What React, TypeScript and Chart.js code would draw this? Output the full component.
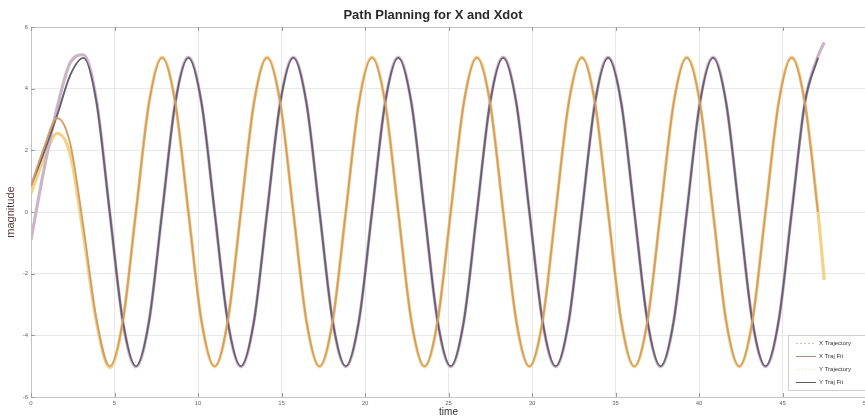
import React, { useEffect, useRef } from "react";
import { Chart, registerables } from "chart.js";

Chart.register(...registerables);

const TITLE = "Path Planning for X and Xdot";
const X_LABEL = "time";
const Y_LABEL = "magnitude";
const SERIES_NAMES = ["X Trajectory", "X Traj Fit", "Y Trajectory", "Y Traj Fit"];
const X_TICKS = [0, 5, 10, 15, 20, 25, 30, 35, 40, 45, 50];
const Y_TICKS = [-6, -4, -2, 0, 2, 4, 6];

const TIME = [
  0, 0.785, 1.571, 2.356, 3.142, 3.927, 4.712, 5.498,
  6.283, 7.069, 7.854, 8.639, 9.425, 10.21, 10.996, 11.781,
  12.566, 13.352, 14.137, 14.923, 15.708, 16.493, 17.279, 18.064,
  18.85, 19.635, 20.42, 21.206, 21.991, 22.777, 23.562, 24.347,
  25.133, 25.918, 26.704, 27.489, 28.274, 29.06, 29.845, 30.631,
  31.416, 32.201, 32.987, 33.772, 34.558, 35.343, 36.128, 36.914,
  37.699, 38.485, 39.27, 40.055, 40.841, 41.626, 42.412, 43.197,
  43.982, 44.768, 45.553, 46.338, 47.124, 47.5,
];

const X_TRAJ = [
  0.6, 1.75, 2.55, 1.85, -0.75, -3.6, -5.05, -3.55,
  0, 3.55, 5.02, 3.54, 0, -3.54, -5.02, -3.54,
  0, 3.54, 5.02, 3.54, 0, -3.54, -5.02, -3.54,
  0, 3.54, 5.02, 3.54, 0, -3.54, -5.02, -3.54,
  0, 3.54, 5.02, 3.54, 0, -3.54, -5.02, -3.54,
  0, 3.54, 5.02, 3.54, 0, -3.54, -5.02, -3.54,
  0, 3.54, 5.02, 3.54, 0, -3.54, -5.02, -3.54,
  0, 3.54, 5.02, 3.54, 0, -2.2,
];

const X_FIT = [
  0.85, 2.1, 3.05, 2.2, -0.5, -3.5, -5, -3.54,
  0, 3.54, 5, 3.54, 0, -3.54, -5, -3.54,
  0, 3.54, 5, 3.54, 0, -3.54, -5, -3.54,
  0, 3.54, 5, 3.54, 0, -3.54, -5, -3.54,
  0, 3.54, 5, 3.54, 0, -3.54, -5, -3.54,
  0, 3.54, 5, 3.54, 0, -3.54, -5, -3.54,
  0, 3.54, 5, 3.54, 0, -3.54, -5, -3.54,
  0, 3.54, 5, 3.54, 0, null,
];

const Y_TRAJ = [
  -0.9, 1.4, 3.4, 4.85, 5.1, 3.6, 0, -3.55,
  -5.02, -3.54, 0, 3.54, 5.02, 3.54, 0, -3.54,
  -5.02, -3.54, 0, 3.54, 5.02, 3.54, 0, -3.54,
  -5.02, -3.54, 0, 3.54, 5.02, 3.54, 0, -3.54,
  -5.02, -3.54, 0, 3.54, 5.02, 3.54, 0, -3.54,
  -5.02, -3.54, 0, 3.54, 5.02, 3.54, 0, -3.54,
  -5.02, -3.54, 0, 3.54, 5.02, 3.54, 0, -3.54,
  -5.02, -3.54, 0, 3.54, 5.05, 5.5,
];

const Y_FIT = [
  0.85, 1.95, 3.15, 4.45, 5, 3.54, 0, -3.54,
  -5, -3.54, 0, 3.54, 5, 3.54, 0, -3.54,
  -5, -3.54, 0, 3.54, 5, 3.54, 0, -3.54,
  -5, -3.54, 0, 3.54, 5, 3.54, 0, -3.54,
  -5, -3.54, 0, 3.54, 5, 3.54, 0, -3.54,
  -5, -3.54, 0, 3.54, 5, 3.54, 0, -3.54,
  -5, -3.54, 0, 3.54, 5, 3.54, 0, -3.54,
  -5, -3.54, 0, 3.54, 5, null,
];

const FONT = "'Liberation Sans', Arial, Helvetica, sans-serif";

const toXY = (ys: (number | null)[]) => TIME.map((t, i) => ({ x: t, y: ys[i] }));

const bgPlugin = {
  id: "bg",
  beforeDraw(chart: any) {
    const { ctx, width, height } = chart;
    ctx.save();
    ctx.fillStyle = "#ffffff";
    ctx.fillRect(0, 0, width, height);
    ctx.restore();
  },
};

const framePlugin = {
  id: "frame",
  beforeDatasetsDraw(chart: any) {
    const { ctx, chartArea } = chart;
    const { left, right, top, bottom } = chartArea;
    const xs = chart.scales.x;
    const ys = chart.scales.y;
    ctx.save();
    ctx.strokeStyle = "#c4c4c4";
    ctx.lineWidth = 1;
    ctx.beginPath();
    ctx.moveTo(left, Math.round(top) + 0.5);
    ctx.lineTo(right, Math.round(top) + 0.5);
    ctx.stroke();
    ctx.strokeStyle = "#9a9a9a";
    ctx.beginPath();
    X_TICKS.forEach((v) => {
      const px = Math.round(xs.getPixelForValue(v)) + 0.5;
      ctx.moveTo(px, bottom);
      ctx.lineTo(px, bottom - 4);
      ctx.moveTo(px, top);
      ctx.lineTo(px, top + 4);
    });
    Y_TICKS.forEach((v) => {
      const py = Math.round(ys.getPixelForValue(v)) + 0.5;
      ctx.moveTo(left, py);
      ctx.lineTo(left + 4, py);
    });
    ctx.stroke();
    ctx.restore();
  },
};

const legendPlugin = {
  id: "customLegend",
  afterDraw(chart: any) {
    const { ctx } = chart;
    const bx = 788.5;
    const by = 335.5;
    ctx.save();
    ctx.fillStyle = "#ffffff";
    ctx.strokeStyle = "#cfcfcf";
    ctx.lineWidth = 1;
    ctx.fillRect(bx, by, 120, 55);
    ctx.strokeRect(bx, by, 120, 55);
    const rows = [343, 356, 369, 382];
    chart.data.datasets.forEach((ds: any, i: number) => {
      const y = rows[i] + 0.5;
      ctx.strokeStyle = ds.legendColor;
      ctx.lineWidth = 1;
      ctx.setLineDash(ds.legendDash);
      ctx.beginPath();
      ctx.moveTo(796, y);
      ctx.lineTo(816, y);
      ctx.stroke();
      ctx.setLineDash([]);
      ctx.fillStyle = "#333333";
      ctx.font = `6px ${FONT}`;
      ctx.textBaseline = "middle";
      ctx.textAlign = "left";
      ctx.fillText(ds.label, 819, y);
    });
    ctx.restore();
  },
};

export default function App() {
  const ref = useRef<HTMLCanvasElement | null>(null);

  useEffect(() => {
    if (!ref.current) return;
    const common = {
      pointRadius: 0,
      cubicInterpolationMode: "monotone",
      spanGaps: false,
      fill: false,
    };
    const chart = new Chart(ref.current, {
      type: "line",
      data: {
        datasets: [
          {
            ...common,
            label: SERIES_NAMES[0],
            data: toXY(X_TRAJ),
            borderColor: "#f2d285",
            borderWidth: 3.2,
            order: 2,
            legendColor: "#c9c0b0",
            legendDash: [2, 2],
          },
          {
            ...common,
            label: SERIES_NAMES[1],
            data: toXY(X_FIT),
            borderColor: "#d49d66",
            borderWidth: 1.9,
            order: 0,
            legendColor: "#a88c78",
            legendDash: [],
          },
          {
            ...common,
            label: SERIES_NAMES[2],
            data: toXY(Y_TRAJ),
            borderColor: "#cbb6c8",
            borderWidth: 3.2,
            order: 1,
            legendColor: "#f1e2b8",
            legendDash: [1, 2],
          },
          {
            ...common,
            label: SERIES_NAMES[3],
            data: toXY(Y_FIT),
            borderColor: "#685e71",
            borderWidth: 1.9,
            order: 0,
            legendColor: "#5e5866",
            legendDash: [],
          },
        ] as any,
      },
      options: {
        responsive: false,
        animation: false,
        events: [],
        layout: { padding: { left: 0, right: 31, top: 0, bottom: 0 } },
        plugins: {
          legend: { display: false },
          tooltip: { enabled: false },
          title: {
            display: true,
            text: TITLE,
            color: "#2a2a2a",
            font: { family: FONT, size: 13, weight: "bold" },
            padding: { top: 8, bottom: 3.4 },
          },
        },
        scales: {
          x: {
            type: "linear",
            min: 0,
            max: 50,
            afterBuildTicks: (s: any) => {
              s.ticks = X_TICKS.map((v) => ({ value: v }));
            },
            afterFit: (s: any) => {
              s.height = 21;
            },
            grid: { color: "#e8e8e8", drawTicks: false },
            border: { color: "#c4c4c4" },
            ticks: {
              font: { family: FONT, size: 6 },
              color: "#666666",
              padding: 3,
              maxRotation: 0,
              autoSkip: false,
            },
            title: {
              display: true,
              text: X_LABEL,
              color: "#333333",
              font: { family: FONT, size: 10 },
              padding: { top: 0, bottom: 0 },
            },
          },
          y: {
            type: "linear",
            min: -6,
            max: 6,
            afterBuildTicks: (s: any) => {
              s.ticks = Y_TICKS.map((v) => ({ value: v }));
            },
            afterFit: (s: any) => {
              s.width = 31;
            },
            grid: { color: "#e8e8e8", drawTicks: false },
            border: { color: "#c4c4c4" },
            ticks: {
              font: { family: FONT, size: 6 },
              color: "#666666",
              padding: 3,
              autoSkip: false,
            },
            title: {
              display: true,
              text: Y_LABEL,
              color: "#5a3535",
              font: { family: FONT, size: 11 },
              padding: { top: 4, bottom: 0 },
            },
          },
        },
      } as any,
      plugins: [bgPlugin, framePlugin, legendPlugin],
    });
    return () => chart.destroy();
  }, []);

  return (
    <div
      style={{
        position: "fixed",
        left: 0,
        top: 0,
        width: 865,
        height: 418,
        overflow: "hidden",
        background: "#ffffff",
      }}
    >
      <canvas ref={ref} width={897} height={418} style={{ display: "block" }} />
    </div>
  );
}
